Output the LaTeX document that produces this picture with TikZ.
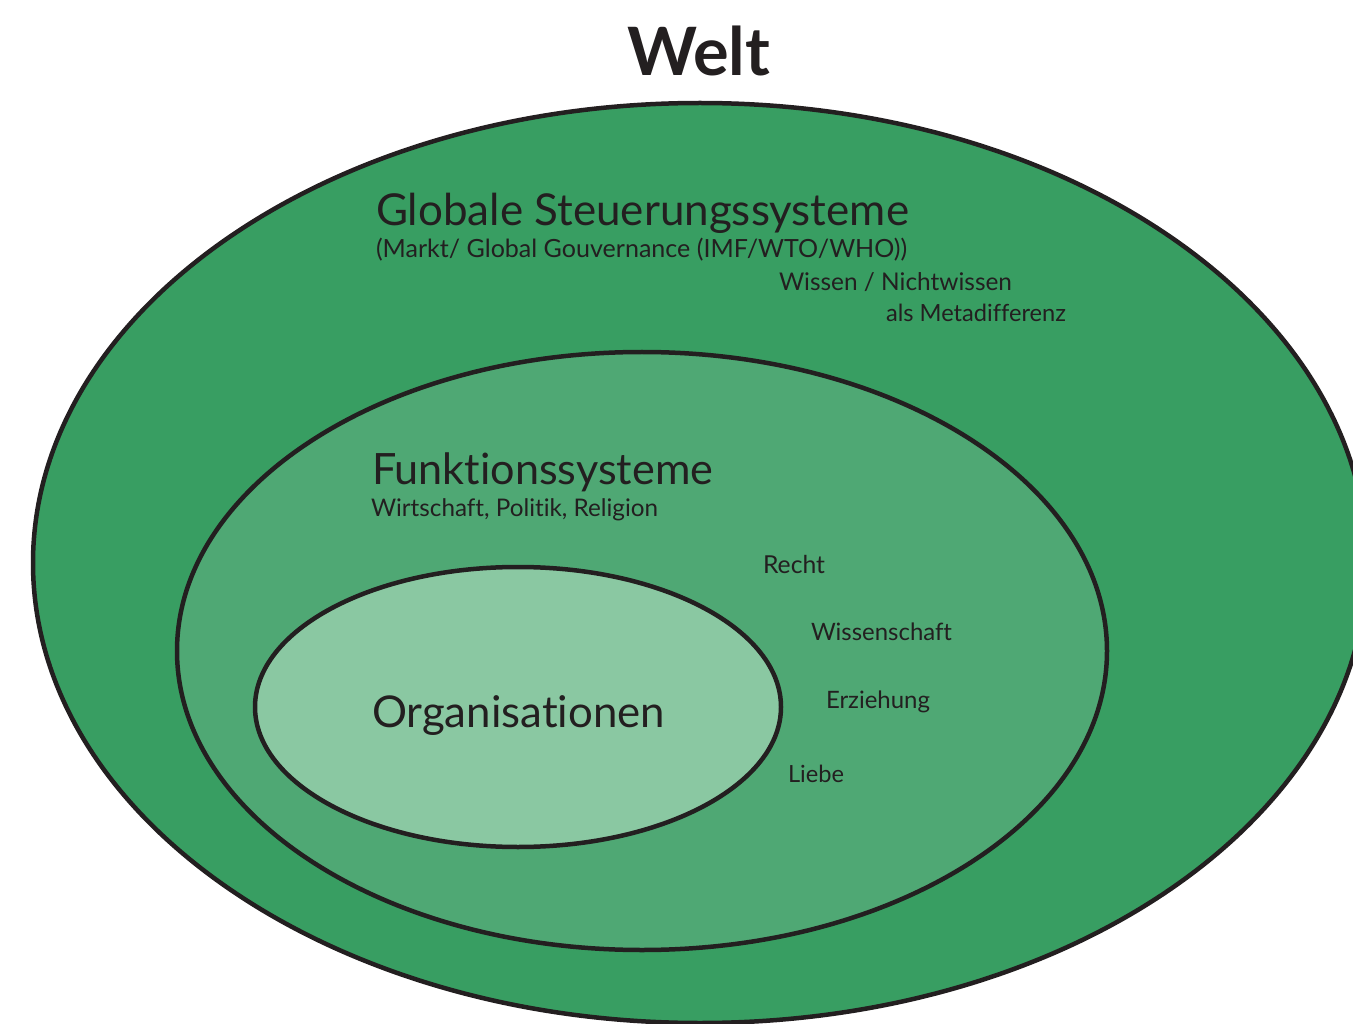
\documentclass[tikz,border=0pt]{standalone}
\usepackage{fontspec}
\setmainfont{Lato}[Ligatures={NoCommon}]
\usepackage{graphicx}
\definecolor{outerg}{HTML}{389E62}
\definecolor{midg}{HTML}{4FA874}
\definecolor{innerg}{HTML}{8AC8A2}
\definecolor{ink}{HTML}{231F20}
\newcommand{\fitw}[2]{\resizebox{#1pt}{!}{#2}}
\begin{document}
\begin{tikzpicture}[x=1pt,y=-1pt,
  ring/.style={draw=ink, line width=4.5pt},
  lbl/.style={inner sep=0pt, outer sep=0pt, anchor=base west, text=ink}]
\useasboundingbox (0,0) rectangle (1353,1024);
\fill[white] (0,0) rectangle (1353,1024);
\begin{scope}
  \clip (0,0) rectangle (1353,1024);
  \draw[ring, fill=outerg] (700,563) ellipse [x radius=667, y radius=460];
\end{scope}
\draw[ring, fill=midg] (642,651) ellipse [x radius=465, y radius=299];
\draw[ring, fill=innerg] (518,707) ellipse [x radius=263, y radius=140];

\node[lbl] (welt) at (627,76) {\fitw{143}{\bfseries Welt}};
\node[lbl] (gss) at (376,226) {\fitw{533}{Globale Steuerungssysteme}};
\node[lbl] (markt) at (376,258) {\fitw{531}{(Markt/ Global Gouvernance (IMF/WTO/WHO))}};
\node[lbl] (wissen) at (779,291) {\fitw{233}{Wissen / Nichtwissen}};
\node[lbl] (meta) at (886,322) {\fitw{180}{als Metadifferenz}};
\node[lbl] (fs) at (372,485) {\fitw{341}{Funktionssysteme}};
\node[lbl] (wpr) at (371,516) {\fitw{287}{Wirtschaft, Politik, Religion}};
\node[lbl] (org) at (372,727) {\fitw{293}{Organisationen}};
\node[lbl] (recht) at (763,573) {\fitw{62}{Recht}};
\node[lbl] (wsch) at (811,640) {\fitw{141}{Wissenschaft}};
\node[lbl] (erz) at (826,708) {\fitw{104}{Erziehung}};
\node[lbl] (liebe) at (788,782) {\fitw{56}{Liebe}};
\end{tikzpicture}
\end{document}
